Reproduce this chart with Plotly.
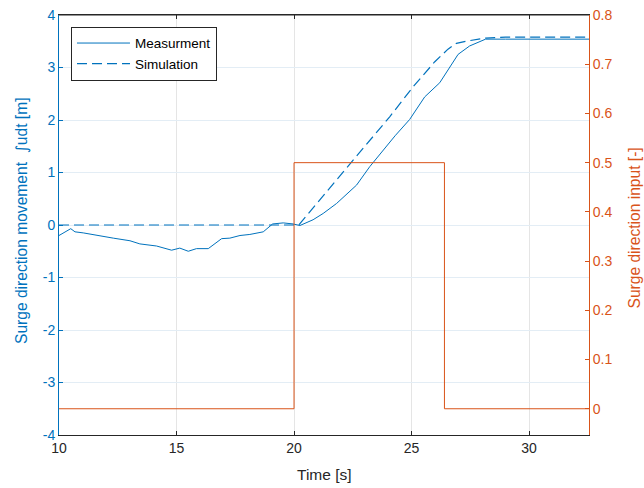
import plotly.graph_objects as go

# Measurement (time [s], surge movement [m])
meas_t = [10.0, 10.5, 10.68, 11.03, 12.31, 12.67, 13.02, 13.44, 14.15, 14.79, 15.14, 15.5,
          15.85, 16.35, 16.92, 17.27, 17.7, 18.12, 18.69, 19.09, 19.54, 19.96, 20.25, 20.81,
          21.24, 21.81, 22.66, 23.22, 23.79, 24.3, 24.92, 25.56, 26.2, 26.98, 27.47, 28.15,
          29.0, 32.55]
meas_v = [-0.20, -0.07, -0.13, -0.15, -0.25, -0.27, -0.30, -0.36, -0.40, -0.48, -0.44, -0.50,
          -0.45, -0.45, -0.26, -0.25, -0.20, -0.18, -0.13, 0.02, 0.04, 0.02, -0.01, 0.10,
          0.22, 0.41, 0.76, 1.11, 1.43, 1.70, 2.01, 2.44, 2.71, 3.25, 3.41, 3.54,
          3.54, 3.54]

# Simulation
sim_t = [10.0, 20.0, 20.2, 22.73, 24.07, 25.06, 25.99, 26.55, 26.91, 27.3, 27.76, 28.15, 29.0, 32.55]
sim_v = [0.0, 0.0, 0.0, 1.35, 2.06, 2.63, 3.11, 3.35, 3.46, 3.50, 3.53, 3.56, 3.58, 3.58]

# Input (step)
inp_t = [10.0, 20.0, 26.4, 32.55]
inp_v = [0.0, 0.5, 0.0, 0.0]

left_ticks = [-4, -3, -2, -1, 0, 1, 2, 3, 4]
left_labels = ["-4", "-3", "-2", "-1", "0", "1", "2", "3", "4"]
right_ticks = [0, 0.1, 0.2, 0.3, 0.4, 0.5, 0.6, 0.7, 0.8]
right_labels = ["0", "0.1", "0.2", "0.3", "0.4", "0.5", "0.6", "0.7", "0.8"]
x_ticks = [10, 15, 20, 25, 30]
x_labels = ["10", "15", "20", "25", "30"]

BLUE = "#0072BD"
ORANGE = "#D95319"
DARK = "#262626"
FONT = "Liberation Sans, DejaVu Sans, Arial, sans-serif"

fig = go.Figure()
fig.add_trace(go.Scatter(x=meas_t, y=meas_v, mode="lines", name="Measurment",
                         line=dict(color=BLUE, width=1)))
fig.add_trace(go.Scatter(x=sim_t, y=sim_v, mode="lines", name="Simulation",
                         line=dict(color=BLUE, width=1.2, dash="10px,5px")))
fig.add_trace(go.Scatter(x=inp_t, y=inp_v, mode="lines", name="Input", yaxis="y2",
                         showlegend=False, line=dict(color=ORANGE, width=1, shape="hv")))

fig.update_layout(
    width=644, height=488,
    margin=dict(l=59, r=55, t=15, b=53, autoexpand=False),
    paper_bgcolor="white", plot_bgcolor="white",
    font=dict(family=FONT, size=14, color=DARK),
    showlegend=True,
    legend=dict(x=0.0226, y=0.972, xanchor="left", yanchor="top",
                bgcolor="white", bordercolor=DARK, borderwidth=1,
                font=dict(size=13.5, color="black"), tracegroupgap=0,
                itemwidth=53),
    xaxis=dict(range=[10, 32.55], tickvals=x_ticks, ticktext=x_labels, ticks="inside", ticklen=4,
               tickcolor=DARK, showline=True, linecolor=DARK, linewidth=1, mirror="ticks",
               showgrid=True, gridcolor="#e5e5e5", zeroline=False, automargin=False,
               ticklabeloverflow="allow",
               tickfont=dict(size=14, color=DARK)),
    yaxis=dict(range=[-4, 4], tickvals=left_ticks, ticktext=left_labels, ticks="inside", ticklen=4,
               tickcolor=BLUE, showline=True, linecolor=BLUE, linewidth=1,
               showgrid=True, gridcolor="#e3edf5", zeroline=False, automargin=False,
               ticklabeloverflow="allow",
               tickfont=dict(size=14, color=BLUE)),
    yaxis2=dict(range=[-0.05333, 0.8], tickvals=right_ticks, ticktext=right_labels,
                overlaying="y", side="right", ticks="inside", ticklen=4,
                tickcolor=ORANGE, showline=True, linecolor=ORANGE, linewidth=1,
                showgrid=False, zeroline=False, automargin=False,
                ticklabeloverflow="allow",
                tickfont=dict(size=14, color=ORANGE)),
)

# top border line
fig.add_shape(type="line", xref="paper", yref="paper", x0=0, x1=1, y0=1, y1=1,
              line=dict(color=DARK, width=1))

# axis titles
fig.add_annotation(text="Time [s]", xref="paper", yref="paper", x=0.5, y=-0.095,
                   xanchor="center", yanchor="middle", showarrow=False,
                   font=dict(size=15.5, color=DARK))
fig.add_annotation(text="Surge direction movement  <span style=\"font-family:DejaVu Sans\">∫</span>udt [m]",
                   xref="paper", yref="paper", x=-0.0698, y=0.5095,
                   xanchor="center", yanchor="middle", textangle=-90, showarrow=False,
                   font=dict(size=15.6, color=BLUE))
fig.add_annotation(text="Surge direction input [-]", xref="paper", yref="paper",
                   x=1.086, y=0.493, xanchor="center", yanchor="middle", textangle=-90,
                   showarrow=False, font=dict(size=15.6, color=ORANGE))

fig.write_html("out.html",
               config={"displayModeBar": False},
               post_script="document.body.style.margin='0';document.body.style.overflow='hidden';")
